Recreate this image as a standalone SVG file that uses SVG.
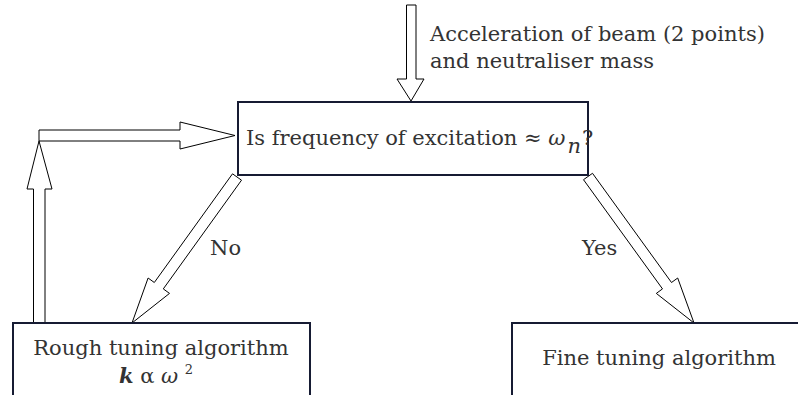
<svg xmlns="http://www.w3.org/2000/svg" width="798" height="395" viewBox="0 0 798 395">
<style>
.box{fill:#fff;stroke:#161b33;stroke-width:2}
.arr{fill:#fff;stroke:#000;stroke-width:1;stroke-linejoin:miter}
text{font-family:"DejaVu Serif","Liberation Serif",serif;font-size:21px;fill:#333}
.it{font-style:italic}
</style>
<rect width="798" height="395" fill="#fff"/>
<g id="connectors">
<polygon class="arr" points="406.5,5 416,5 416,79 424,79 411,101 397,79 406.5,79"/>
<polygon class="arr" points="33.5,323 33.5,189 27,189 39,141 52,189 45,189 45,323"/>
<polygon class="arr" points="39,130 180,130 180,122 235,135.5 180,149 180,141 39,141"/>
<polygon class="arr" points="232.5,173.8 154.3,282.5 148.1,278 132,323 169.5,293.4 163.3,288.9 241.5,180.2"/>
<polygon class="arr" points="583.5,179.7 662.5,288.9 656.3,293.4 694,323 677.7,278 671.5,282.5 592.5,173.3"/>
<text x="210" y="255">No</text>
<text x="582" y="255">Yes</text>
</g>
<g id="input">
<text x="430" y="41">Acceleration of beam (2 points)</text>
<text x="430" y="68">and neutraliser mass</text>
</g>
<g id="decision">
<rect class="box" x="238" y="102" width="350" height="73"/>
<text x="246" y="145" font-size="20">Is frequency of excitation ≈ <tspan class="it">ω</tspan><tspan class="it" dx="2" dy="8">n</tspan><tspan dx="1" dy="-8">?</tspan></text>
</g>
<g id="rough">
<rect class="box" x="13" y="323" width="297" height="90"/>
<text x="161" y="355" text-anchor="middle">Rough tuning algorithm</text>
<text x="156" y="383" text-anchor="middle"><tspan class="it" font-weight="bold">k</tspan> α <tspan class="it">ω</tspan> <tspan font-size="13" dy="-9">2</tspan></text>
</g>
<g id="fine">
<rect class="box" x="512" y="323" width="300" height="90"/>
<text x="659" y="365" text-anchor="middle">Fine tuning algorithm</text>
</g>
</svg>
